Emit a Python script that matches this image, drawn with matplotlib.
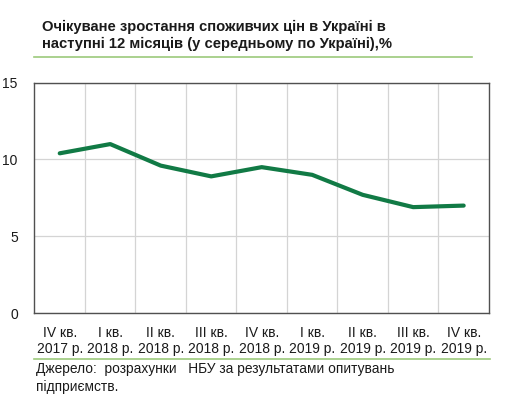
import matplotlib
matplotlib.use("Agg")
import matplotlib.pyplot as plt
from matplotlib.lines import Line2D

plt.rcParams['font.family'] = ['Liberation Sans', 'DejaVu Sans']

quarters = ["IV кв.\n2017 р.", "I кв.\n2018 р.", "II кв.\n2018 р.", "III кв.\n2018 р.",
            "IV кв.\n2018 р.", "I кв.\n2019 р.", "II кв.\n2019 р.", "III кв.\n2019 р.",
            "IV кв.\n2019 р."]
expected = [10.4, 11.0, 9.6, 8.9, 9.5, 9.0, 7.7, 6.9, 7.0]
yticks = [0, 5, 10, 15]

GREEN = '#117a45'
LIGHT_GREEN = '#9cc97c'
TEXT = '#1a1a1a'

fig = plt.figure(figsize=(5.17, 3.97), dpi=100)
ax = fig.add_axes([0.0667, 0.211, 0.879, 0.581])

x = list(range(len(quarters)))
ax.plot(x, expected, color=GREEN, lw=3.0, solid_capstyle='round', zorder=3)

ax.set_xlim(-0.5, len(quarters) - 0.5)
ax.set_ylim(0, 15)
ax.set_yticks(yticks)
ax.set_xticks(x)
ax.set_xticklabels(quarters, fontsize=10, color=TEXT, linespacing=1.2)
ax.tick_params(axis='y', length=0, pad=12, labelsize=10, labelcolor=TEXT)
ax.tick_params(axis='x', length=0, pad=9)

# gridlines between categories
ax.set_xticks([i + 0.5 for i in x[:-1]], minor=True)
ax.grid(True, which='minor', axis='x', color='#d4d4d4', lw=0.9)
ax.grid(True, which='major', axis='y', color='#d4d4d4', lw=0.9)
ax.tick_params(axis='x', which='minor', length=0)
ax.set_axisbelow(True)
for s in ax.spines.values():
    s.set_color('#505050')
    s.set_linewidth(1.0)

fig.text(42 / 517, 1 - 35.5 / 397,
         "Очікуване зростання споживчих цін в Україні в\nнаступні 12 місяців (у середньому по Україні),%",
         fontsize=10.6, fontweight='bold', color=TEXT, va='center', ha='left', linespacing=1.3)
fig.add_artist(Line2D([34 / 517, 472 / 517], [1 - 57 / 397] * 2, color=LIGHT_GREEN, lw=1.2))
fig.add_artist(Line2D([34 / 517, 490 / 517], [1 - 359 / 397] * 2, color=LIGHT_GREEN, lw=1.2))

fig.text(36 / 517, 1 - 378 / 397,
         "Джерело:  розрахунки   НБУ за результатами опитувань\nпідприємств.",
         fontsize=9.9, color=TEXT, va='center', ha='left', linespacing=1.3)

fig.savefig("out.png", dpi=100, facecolor='white')
